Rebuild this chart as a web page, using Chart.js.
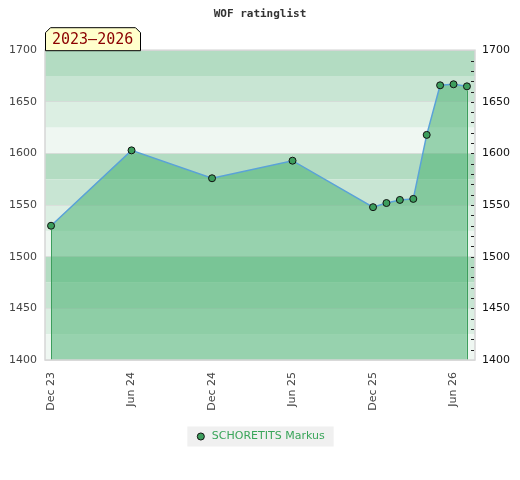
<!DOCTYPE html>
<html>
<head>
<meta charset="utf-8">
<script src="https://cdn.jsdelivr.net/npm/chart.js@4.4.1/dist/chart.umd.min.js"></script>
<style>
  html, body { margin: 0; padding: 0; background: #fff; }
  #wrap { width: 520px; height: 480px; }
</style>
</head>
<body>
<div id="wrap"><canvas id="chart" width="520" height="480"></canvas></div>
<script>
// rating history, one entry per list
const pointMonths = ["2023-12", "2024-06", "2024-12", "2025-06", "2025-12", "2026-01",
                     "2026-02", "2026-03", "2026-04", "2026-05", "2026-06", "2026-07"];
const ratings = [1530, 1603, 1576, 1593, 1548, 1552, 1555, 1556, 1618, 1666, 1667, 1665];
const xTickLabels = ["Dec 23", "Jun 24", "Dec 24", "Jun 25", "Dec 25", "Jun 26"];
const yMin = 1400;
const yMax = 1700;
const playerName = "SCHORETITS Markus";
const chartTitle = "WOF ratinglist";
const periodLabel = "2023–2026";

// months counted from Dec 2023
const monthIndex = (s) => {
  const [y, m] = s.split("-").map(Number);
  return (y - 2023) * 12 + m - 12;
};
const points = pointMonths.map((m, i) => ({ x: monthIndex(m), y: ratings[i] }));

const GREEN = "#3d9e5d";
const bandColors = ["#b3dcc2", "#c8e5d3", "#dcefe3", "#eff7f2"];

const decorations = {
  id: "decorations",
  beforeDraw(chart) {
    const { ctx, chartArea: a, scales: { y } } = chart;
    ctx.save();
    // striped background, 25 points per band
    for (let v = yMax, i = 0; v > yMin; v -= 25, i++) {
      const top = y.getPixelForValue(v);
      const bot = y.getPixelForValue(v - 25);
      ctx.fillStyle = bandColors[i % 4];
      ctx.fillRect(a.left, top, a.right - a.left, bot - top);
    }
    // legend background
    const lg = chart.legend;
    if (lg && lg.legendHitBoxes && lg.legendHitBoxes.length) {
      const hb = lg.legendHitBoxes[0];
      ctx.fillStyle = "#f0f0f0";
      ctx.fillRect(hb.left - 8, hb.top - 4.5, hb.width + 17, hb.height + 9);
    }
    ctx.restore();
  },
  afterDatasetsDraw(chart) {
    const { ctx, chartArea: a, scales: { y } } = chart;
    const meta = chart.getDatasetMeta(0);
    ctx.save();
    // fill edges
    ctx.strokeStyle = GREEN;
    ctx.lineWidth = 1;
    [meta.data[0], meta.data[meta.data.length - 1]].forEach((p) => {
      const x = Math.round(p.x) + 0.5;
      ctx.beginPath();
      ctx.moveTo(x, p.y + 4);
      ctx.lineTo(x, a.bottom);
      ctx.stroke();
    });
    // minor ticks on the right edge
    ctx.strokeStyle = "#222";
    for (let v = yMin + 10; v < yMax; v += 10) {
      const py = Math.round(y.getPixelForValue(v)) + 0.5;
      ctx.beginPath();
      ctx.moveTo(a.right - 4, py);
      ctx.lineTo(a.right - 1, py);
      ctx.stroke();
    }
    // plot frame
    ctx.strokeStyle = "#d6d6d6";
    ctx.lineWidth = 1.5;
    ctx.strokeRect(a.left, a.top, a.right - a.left, a.bottom - a.top);
    ctx.restore();
  },
  afterDraw(chart) {
    const { ctx, chartArea: a } = chart;
    const l = a.left + 0.5, r = a.left + 95.5, t = a.top - 22.5, b = a.top + 0.5, c = 5;
    ctx.save();
    ctx.beginPath();
    ctx.moveTo(l, b);
    ctx.lineTo(l, t + c);
    ctx.lineTo(l + c, t);
    ctx.lineTo(r - c, t);
    ctx.lineTo(r, t + c);
    ctx.lineTo(r, b);
    ctx.closePath();
    ctx.fillStyle = "#ffffcc";
    ctx.fill();
    ctx.strokeStyle = "#000";
    ctx.lineWidth = 1;
    ctx.stroke();
    ctx.fillStyle = "#8b0000";
    ctx.font = "15px 'DejaVu Sans Mono'";
    ctx.textBaseline = "middle";
    ctx.fillText(periodLabel, l + 6.5, t + 12);
    ctx.restore();
  }
};

new Chart(document.getElementById("chart"), {
  type: "line",
  data: {
    datasets: [
      {
        label: playerName,
        data: points,
        borderColor: "#5aa2d8",
        borderWidth: 1.5,
        backgroundColor: "rgba(63, 174, 106, 0.5)",
        fill: "start",
        tension: 0,
        pointRadius: 3.5,
        pointHoverRadius: 3.5,
        pointBackgroundColor: GREEN,
        pointBorderColor: "#111",
        pointBorderWidth: 1,
      },
    ],
  },
  options: {
    responsive: false,
    animation: false,
    layout: { padding: { left: 0, right: 0, top: 0, bottom: 28 } },
    plugins: {
      title: {
        display: true,
        text: chartTitle,
        color: "#333",
        font: { family: "'DejaVu Sans Mono'", size: 11, weight: "bold" },
        padding: { top: 8, bottom: 29 },
      },
      legend: {
        position: "bottom",
        labels: {
          usePointStyle: true,
          boxWidth: 14,
          boxHeight: 5,
          color: "#3aa55a",
          font: { family: "'DejaVu Sans'", size: 11 },
          generateLabels(chart) {
            const ds = chart.data.datasets[0];
            return [{
              text: ds.label,
              fillStyle: GREEN,
              strokeStyle: "#111",
              lineWidth: 1,
              pointStyle: "circle",
              fontColor: "#3aa55a",
              datasetIndex: 0,
            }];
          },
        },
      },
      tooltip: { enabled: false },
    },
    scales: {
      x: {
        type: "linear",
        min: -0.45,
        max: 31.6,
        afterBuildTicks(scale) {
          scale.ticks = xTickLabels.map((_, i) => ({ value: i * 6 }));
        },
        afterFit(scale) { scale.height = 61; },
        grid: { display: false, drawTicks: false },
        border: { display: false },
        ticks: {
          autoSkip: false,
          minRotation: 90,
          maxRotation: 90,
          padding: 12,
          color: "#444",
          font: { family: "'DejaVu Sans'", size: 11 },
          callback: (v) => xTickLabels[Math.round(v / 6)],
        },
      },
      y: {
        min: yMin,
        max: yMax,
        afterFit(scale) { scale.width = 45; },
        grid: { color: "rgba(215, 215, 215, 0.7)", drawTicks: false },
        border: { display: false },
        ticks: {
          stepSize: 50,
          padding: 8,
          color: "#444",
          font: { family: "'DejaVu Sans'", size: 11 },
          callback: (v) => String(v),
        },
      },
      y2: {
        position: "right",
        min: yMin,
        max: yMax,
        afterFit(scale) { scale.width = 45; },
        grid: { drawOnChartArea: false, drawTicks: false },
        border: { display: false },
        ticks: {
          stepSize: 50,
          padding: 7,
          color: "#111",
          font: { family: "'DejaVu Sans'", size: 11 },
          callback: (v) => String(v),
        },
      },
    },
  },
  plugins: [decorations],
});
</script>
</body>
</html>
